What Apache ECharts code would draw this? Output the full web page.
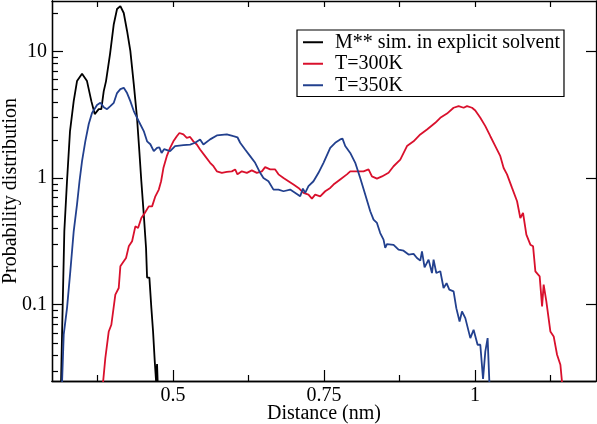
<!DOCTYPE html>
<html>
<head>
<meta charset="utf-8">
<script src="https://cdn.jsdelivr.net/npm/echarts@6/dist/echarts.min.js"></script>
<style>
html,body{margin:0;padding:0;background:#fff;}
#chart{width:597px;height:424px;}
</style>
</head>
<body>
<div id="chart"></div>
<script>
// ---- data (x: distance in nm, y: probability) ----
const seriesNames = ['M** sim. in explicit solvent', 'T=300K', 'T=350K'];

const blackData = [
  [0.313,0.02],[0.315,0.025],[0.3166,0.058],[0.3204,0.38],[0.3248,0.94],[0.3298,2.35],
  [0.3359,4.05],[0.3414,5.83],[0.3497,6.65],[0.3579,5.83],[0.3651,4.05],[0.3707,3.2],
  [0.3773,3.5],[0.3816,3.5],[0.3856,4.86],[0.3894,5.83],[0.396,9.5],[0.4022,16.4],
  [0.4076,21.6],[0.4131,22.8],[0.4187,20.1],[0.4242,14.5],[0.4296,10.1],[0.4353,5.52],
  [0.4407,2.97],[0.4445,1.63],[0.4478,0.944],[0.4518,0.518],[0.4556,0.279],[0.4573,0.164],
  [0.4611,0.164],[0.4644,0.094],[0.4672,0.0615],[0.47,0.0357],[0.4722,0.0248],[0.4738,0.034],
  [0.4755,0.02]
];

const redData = [
  [0.3828,0.02],[0.3882,0.0378],[0.3939,0.0615],[0.3982,0.0695],[0.4048,0.12],[0.4104,0.1355],
  [0.4131,0.201],[0.4187,0.22],[0.4225,0.234],[0.427,0.289],[0.4325,0.317],[0.4379,0.416],
  [0.4424,0.404],[0.4478,0.484],[0.4535,0.53],[0.4601,0.598],[0.4656,0.598],[0.471,0.718],
  [0.4767,0.811],[0.4805,0.944],[0.4843,1.2],[0.4899,1.49],[0.4954,1.73],[0.5008,1.95],
  [0.5065,2.14],[0.5108,2.27],[0.5174,2.21],[0.523,2.08],[0.5285,2.11],[0.5339,1.95],
  [0.5396,1.84],[0.545,1.68],[0.5533,1.49],[0.5616,1.32],[0.5671,1.24],[0.5727,1.13],
  [0.581,1.1],[0.5892,1.12],[0.5975,1.13],[0.603,1.17],[0.6068,1.07],[0.6141,1.13],
  [0.6224,1.1],[0.6306,1.15],[0.6389,1.1],[0.6472,1.13],[0.6526,1.22],[0.6609,1.17],
  [0.6692,1.17],[0.6747,1.07],[0.683,1.0],[0.6912,0.944],[0.6995,0.889],[0.7078,0.836],
  [0.7161,0.763],[0.7243,0.741],[0.73,0.689],[0.7354,0.741],[0.7437,0.718],[0.752,0.787],
  [0.7603,0.836],[0.7657,0.889],[0.7768,0.975],[0.7879,1.07],[0.7934,1.13],[0.8045,1.13],
  [0.8154,1.13],[0.8237,1.17],[0.8293,1.03],[0.8376,0.99],[0.8459,1.03],[0.8568,1.1],
  [0.8651,1.24],[0.8762,1.4],[0.8873,1.79],[0.8982,1.95],[0.9093,2.21],[0.9204,2.42],
  [0.9341,2.73],[0.9424,2.99],[0.9535,3.23],[0.9644,3.59],[0.9727,3.7],[0.981,3.59],
  [0.9866,3.7],[0.9949,3.59],[1.0003,3.42],[1.0086,2.99],[1.0169,2.57],[1.0252,2.14],
  [1.0334,1.79],[1.0417,1.49],[1.0472,1.2],[1.0528,1.07],[1.0611,0.836],[1.0694,0.656],
  [1.0748,0.484],[1.0793,0.53],[1.0848,0.358],[1.0914,0.298],[1.0959,0.289],[1.0997,0.1836],
  [1.1068,0.1675],[1.1108,0.097],[1.1134,0.144],[1.1179,0.106],[1.1245,0.0615],[1.13,0.0562],
  [1.1356,0.0403],[1.1411,0.0336],[1.1455,0.02]
];

const blueData = [
  [0.3166,0.024],[0.3194,0.0583],[0.3248,0.0935],[0.3303,0.1836],[0.3359,0.38],[0.3414,0.621],
  [0.3455,0.944],[0.3497,1.36],[0.3551,1.95],[0.3608,2.67],[0.3662,3.26],[0.3745,3.77],
  [0.38,3.93],[0.3856,3.63],[0.3911,3.5],[0.3965,3.7],[0.4022,3.93],[0.4076,4.69],
  [0.4131,5.04],[0.4187,5.16],[0.4214,5.32],[0.4242,4.69],[0.4296,4.05],[0.4353,3.38],
  [0.4435,2.81],[0.4518,2.35],[0.4573,1.95],[0.4627,1.85],[0.4684,1.63],[0.4738,1.73],
  [0.4776,1.75],[0.4813,1.58],[0.4854,1.69],[0.4904,1.66],[0.4954,1.63],[0.5036,1.79],
  [0.5174,1.82],[0.5285,1.84],[0.5368,1.9],[0.545,2.02],[0.5505,1.84],[0.5616,2.02],
  [0.5727,2.17],[0.5892,2.21],[0.6002,2.14],[0.6068,2.1],[0.6113,1.9],[0.6195,1.68],
  [0.6278,1.49],[0.6361,1.32],[0.6444,1.1],[0.6498,1.0],[0.6581,0.944],[0.6664,0.811],
  [0.6747,0.811],[0.683,0.787],[0.694,0.811],[0.7051,0.75],[0.7106,0.718],[0.7151,0.826],
  [0.7189,0.763],[0.7243,0.863],[0.7326,0.944],[0.7409,1.1],[0.7492,1.32],[0.7603,1.73],
  [0.7685,1.9],[0.7768,2.02],[0.7806,2.05],[0.7851,1.79],[0.7934,1.58],[0.8017,1.32],
  [0.8099,1.0],[0.8182,0.741],[0.8265,0.547],[0.832,0.47],[0.8376,0.442],[0.843,0.368],
  [0.8485,0.327],[0.8513,0.281],[0.8541,0.301],[0.8651,0.297],[0.8733,0.272],[0.8816,0.267],
  [0.8899,0.249],[0.8982,0.252],[0.9038,0.234],[0.9093,0.223],[0.9121,0.264],[0.9164,0.197],
  [0.923,0.227],[0.9286,0.178],[0.9313,0.227],[0.9358,0.178],[0.9424,0.184],[0.9478,0.1355],
  [0.9528,0.148],[0.9573,0.1315],[0.9644,0.1276],[0.9689,0.094],[0.9743,0.0738],[0.9783,0.0885],
  [0.9838,0.0784],[0.9921,0.0545],[0.9975,0.0635],[1.0041,0.0483],[1.0086,0.0483],[1.0131,0.026],
  [1.0169,0.0428],[1.0207,0.0545],[1.0243,0.02]
];

const xMajorTicks = [0.5, 0.75, 1];
const xMinorTicks = [0.375, 0.625, 0.875, 1.125];
const yMajorTicks = [0.1, 1, 10];
const yMinorTicks = [0.03,0.04,0.05,0.06,0.07,0.08,0.09,0.2,0.3,0.4,0.5,0.6,0.7,0.8,0.9,2,3,4,5,6,7,8,9,20];
const xRange = [0.3, 1.2];
const yRange = [0.025, 25];

// ---- chart ----
const FONT = '"Liberation Serif", "Times New Roman", serif';
const colors = ['#000000', '#d9102c', '#22408e'];
const chart = echarts.init(document.getElementById('chart'), null, {renderer: 'canvas'});

function fmt(v) { return String(Math.round(v * 1000) / 1000); }

const baseX = {
  type: 'value', min: xRange[0], max: xRange[1], splitLine: {show: false},
  axisLine: {show: true, onZero: false, lineStyle: {color: '#000', width: 1.3}}
};
const baseY = {
  type: 'log', logBase: 10, min: yRange[0], max: yRange[1], splitLine: {show: false},
  axisLine: {show: true, onZero: false, lineStyle: {color: '#000', width: 1.3}}
};

chart.setOption({
  animation: false,
  backgroundColor: '#fff',
  color: colors,
  grid: {left: 52, right: 1, top: 1, bottom: 43, containLabel: false, outerBoundsMode: 'none'},
  legend: {
    orient: 'vertical', left: 297, top: 30,
    data: seriesNames,
    icon: 'rect', itemWidth: 20, itemHeight: 2, itemGap: 1,
    padding: [2, 4, 1, 6],
    borderColor: '#000', borderWidth: 1.2,
    textStyle: {fontFamily: FONT, fontSize: 20, color: '#000', lineHeight: 20.5, padding: [0, 0, 0, 7]}
  },
  xAxis: [
    Object.assign({}, baseX, {
      position: 'bottom',
      name: 'Distance (nm)', nameLocation: 'middle', nameGap: 23, nameMoveOverlap: false,
      nameTextStyle: {fontFamily: FONT, fontSize: 20, color: '#000'},
      axisTick: {show: true, inside: true, length: 11, customValues: xMajorTicks, lineStyle: {color: '#000', width: 1.2}},
      axisLabel: {show: true, customValues: xMajorTicks, margin: 5, fontFamily: FONT, fontSize: 20, color: '#000', formatter: fmt}
    }),
    Object.assign({}, baseX, {
      position: 'bottom',
      axisTick: {show: true, inside: true, length: 6, customValues: xMinorTicks, lineStyle: {color: '#000', width: 1.2}},
      axisLabel: {show: false}
    }),
    Object.assign({}, baseX, {
      position: 'top',
      axisTick: {show: true, inside: true, length: 6, customValues: xMajorTicks.concat(xMinorTicks), lineStyle: {color: '#000', width: 1.2}},
      axisLabel: {show: false}
    })
  ],
  yAxis: [
    Object.assign({}, baseY, {
      position: 'left',
      name: 'Probability distribution', nameLocation: 'middle', nameGap: 31, nameMoveOverlap: false,
      nameTextStyle: {fontFamily: FONT, fontSize: 20, color: '#000'},
      axisTick: {show: true, inside: true, length: 11, customValues: yMajorTicks, lineStyle: {color: '#000', width: 1.2}},
      axisLabel: {show: true, customValues: yMajorTicks, margin: 5, fontFamily: FONT, fontSize: 20, color: '#000', formatter: fmt}
    }),
    Object.assign({}, baseY, {
      position: 'left',
      axisTick: {show: true, inside: true, length: 6, customValues: yMinorTicks, lineStyle: {color: '#000', width: 1.2}},
      axisLabel: {show: false}
    }),
    Object.assign({}, baseY, {
      position: 'right',
      axisTick: {show: true, inside: true, length: 10, customValues: yMajorTicks, lineStyle: {color: '#000', width: 1.2}},
      axisLabel: {show: false}
    })
  ],
  series: [
    {name: seriesNames[0], type: 'line', data: blackData, xAxisIndex: 0, yAxisIndex: 0, symbol: 'none', clip: true,
     lineStyle: {width: 1.8, color: colors[0]}, itemStyle: {color: colors[0]}},
    {name: seriesNames[1], type: 'line', data: redData, xAxisIndex: 0, yAxisIndex: 0, symbol: 'none', clip: true,
     lineStyle: {width: 1.8, color: colors[1]}, itemStyle: {color: colors[1]}},
    {name: seriesNames[2], type: 'line', data: blueData, xAxisIndex: 0, yAxisIndex: 0, symbol: 'none', clip: true,
     lineStyle: {width: 1.8, color: colors[2]}, itemStyle: {color: colors[2]}}
  ]
});
</script>
</body>
</html>
